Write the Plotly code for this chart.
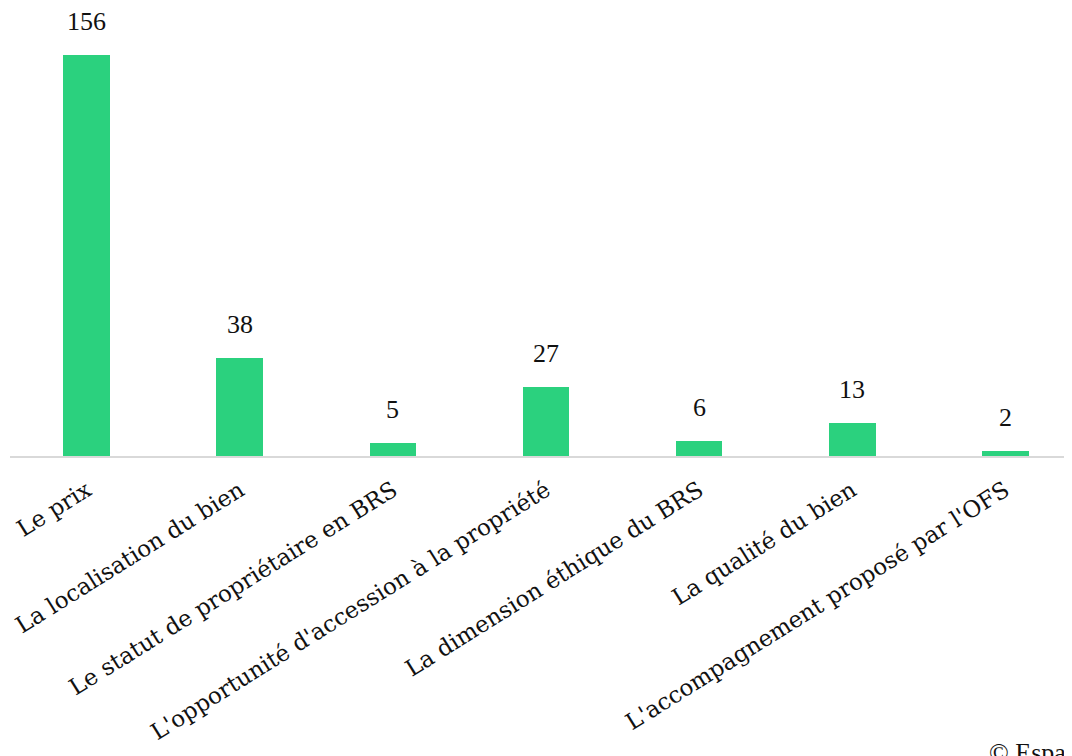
import plotly.graph_objects as go

categories = [
    "Le prix",
    "La localisation du bien",
    "Le statut de propriétaire en BRS",
    "L'opportunité d'accession à la propriété",
    "La dimension éthique du BRS",
    "La qualité du bien",
    "L'accompagnement proposé par l'OFS",
]
values = [156, 38, 5, 27, 6, 13, 2]
source_text = "© Espacité"

NUM_FONT = "Liberation Serif"
TICK_FONT = "DejaVu Serif"
BAR_COLOR = "#2BD17E"

fig = go.Figure(
    go.Bar(
        x=list(range(len(categories))),
        y=values,
        marker=dict(color=BAR_COLOR, line=dict(width=0)),
        width=0.307,
        hoverinfo="skip",
    )
)

for i, v in enumerate(values):
    fig.add_annotation(
        x=i, y=v, text=str(v), showarrow=False, xref="x", yref="y",
        yanchor="bottom", yshift=17,
        font=dict(family=NUM_FONT, size=26, color="#111111"),
    )

fig.add_annotation(
    x=0.913, y=-0.628, xref="paper", yref="paper",
    xanchor="left", yanchor="top", text=source_text, showarrow=False,
    font=dict(family=NUM_FONT, size=26, color="#111111"),
)

fig.update_layout(
    width=1072, height=756,
    margin=dict(l=2, r=0, t=2, b=308),
    paper_bgcolor="white", plot_bgcolor="white",
    showlegend=False,
    bargap=0,
)
fig.update_xaxes(
    tickmode="array", tickvals=list(range(len(categories))), ticktext=categories,
    tickangle=-32, range=[-0.503, 6.49],
    showline=True, linecolor="#d9d9d9", linewidth=2,
    showgrid=False, zeroline=False, ticks="",
    ticklabelstandoff=10,
    tickfont=dict(family=TICK_FONT, size=23, color="#111111"),
)
fig.update_yaxes(
    range=[0, 173.5], visible=False, showgrid=False, zeroline=False,
)

fig.write_html("out.html")
